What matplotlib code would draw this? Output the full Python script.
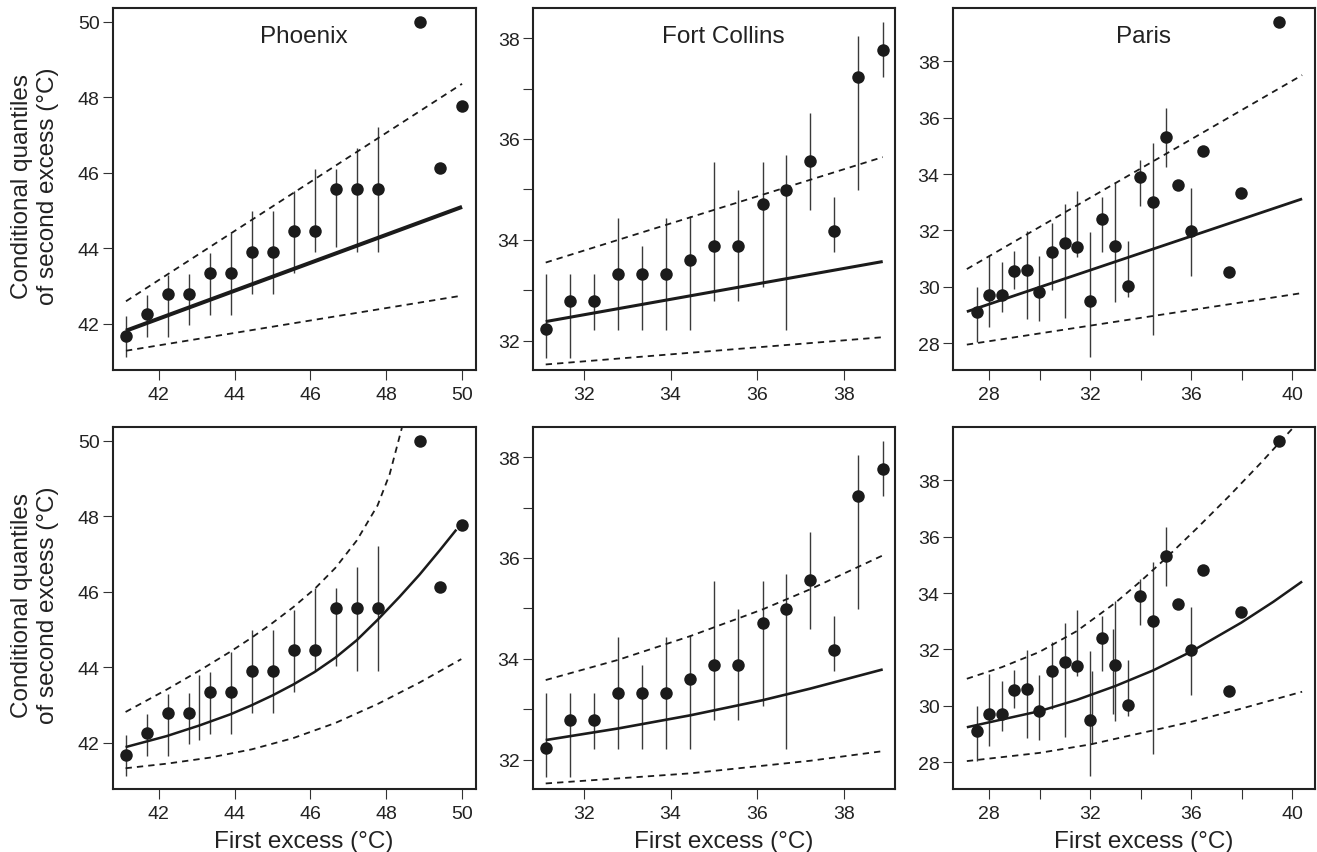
import numpy as np
import matplotlib
matplotlib.use("Agg")
import matplotlib.pyplot as plt

plt.rcParams['font.family'] = ['Liberation Sans', 'DejaVu Sans']

# ---------------- data: observed conditional quantiles ----------------
cities = ["Phoenix", "Fort Collins", "Paris"]

phx_x = [41.13, 41.68, 42.24, 42.79, 43.35, 43.90, 44.45, 45.01, 45.56, 46.12,
         46.67, 47.22, 47.78, 48.89, 49.43, 50.00]
phx_y = [41.69, 42.26, 42.80, 42.80, 43.36, 43.36, 43.90, 43.90, 44.47, 44.47,
         45.57, 45.57, 45.57, 50.00, 46.13, 47.78]
phx_lo = [41.12, 41.66, 41.66, 41.96, 42.24, 42.24, 42.78, 42.78, 43.34, 43.90,
          44.03, 43.90, 43.90, np.nan, np.nan, np.nan]
phx_hi = [42.22, 42.77, 43.30, 43.32, 43.88, 44.40, 44.99, 44.99, 45.53, 46.10,
          46.10, 46.66, 47.22, np.nan, np.nan, np.nan]

fc_x = [31.12, 31.68, 32.23, 32.79, 33.35, 33.90, 34.45, 35.00, 35.56, 36.12,
        36.66, 37.22, 37.77, 38.33, 38.89]
fc_y = [32.23, 32.78, 32.78, 33.33, 33.33, 33.33, 33.60, 33.88, 33.88, 34.72,
        34.99, 35.56, 34.17, 37.22, 37.77]
fc_lo = [31.66, 31.66, 32.22, 32.22, 32.22, 32.22, 32.22, 32.78, 32.78, 33.06,
         32.22, 34.59, 33.75, 34.99, 37.22]
fc_hi = [33.32, 33.32, 33.32, 34.44, 33.88, 34.44, 34.47, 35.55, 34.99, 35.55,
         35.69, 36.51, 34.85, 38.05, 38.32]

par_x = [27.51, 28.00, 28.50, 29.00, 29.49, 29.99, 30.49, 30.99, 31.49, 32.00,
         32.48, 32.99, 33.49, 33.97, 34.49, 34.99, 35.49, 35.99, 36.48, 37.49,
         37.98, 39.48]
par_y = [29.10, 29.71, 29.71, 30.55, 30.60, 29.81, 31.25, 31.56, 31.40, 29.49,
         32.41, 31.46, 30.02, 33.91, 33.00, 35.30, 33.61, 31.97, 34.81, 30.52,
         33.32, 39.40]
par_lo = [28.04, 28.59, 29.12, 29.93, 28.86, 28.80, 29.90, 28.89, 31.07, 27.50,
          31.25, 29.45, 29.65, 32.88, 28.29, 34.26, np.nan, 30.38, np.nan, np.nan,
          np.nan, np.nan]
par_hi = [30.00, 31.13, 30.87, 31.28, 31.99, 31.09, 32.27, 32.94, 33.39, 31.94,
          33.18, 33.71, 31.62, 34.50, 35.09, 36.34, np.nan, 33.51, np.nan, np.nan,
          np.nan, np.nan]

# extra interval segments visible only in the lower panels
phx_extra_x = [43.06]
phx_extra_lo = [42.08]
phx_extra_hi = [43.80]
fc_extra_x = []
fc_extra_lo = []
fc_extra_hi = []
par_extra_x = [32.06, 32.89]
par_extra_lo = [28.65, 29.71]
par_extra_hi = [31.23, 32.71]

# ---------------- fitted curves, top row (linear model) ----------------
phx_lin_x = [41.13, 50.00]
phx_lin_med = [41.82, 45.10]
phx_lin_up = [42.60, 48.36]
phx_lin_low = [41.29, 42.75]

fc_lin_x = [31.12, 38.89]
fc_lin_med = [32.38, 33.57]
fc_lin_up = [33.55, 35.64]
fc_lin_low = [31.53, 32.07]

par_lin_x = [27.12, 40.39]
par_lin_med = [29.12, 33.12]
par_lin_up = [30.63, 37.51]
par_lin_low = [27.95, 29.78]

# ---------------- fitted curves, bottom row (nonlinear model) ----------------
phx_nl_med_x = [41.12, 42.20, 43.06, 43.89, 44.45, 45.00, 45.55, 46.11, 46.66,
                47.22, 47.77, 48.35, 48.88, 49.41, 49.85]
phx_nl_med = [41.89, 42.18, 42.46, 42.76, 43.00, 43.26, 43.55, 43.88, 44.26,
              44.72, 45.26, 45.87, 46.46, 47.10, 47.65]
phx_nl_up_x = [41.12, 42.20, 43.06, 43.89, 44.45, 45.00, 45.55, 46.11, 46.66,
               47.22, 47.77, 48.09, 48.40, 48.50]
phx_nl_up = [42.82, 43.41, 43.91, 44.42, 44.79, 45.18, 45.60, 46.08, 46.64,
             47.36, 48.29, 49.12, 50.30, 50.75]
phx_nl_low_x = [41.12, 42.20, 43.34, 44.45, 45.55, 46.66, 47.77, 48.88, 49.98]
phx_nl_low = [41.33, 41.45, 41.61, 41.83, 42.13, 42.53, 43.03, 43.60, 44.22]

fc_nl_med_x = [31.12, 32.79, 34.45, 36.12, 37.22, 38.89]
fc_nl_med = [32.39, 32.62, 32.88, 33.18, 33.41, 33.79]
fc_nl_up_x = [31.12, 32.79, 34.45, 36.12, 37.22, 38.89]
fc_nl_up = [33.58, 33.98, 34.45, 34.98, 35.38, 36.05]
fc_nl_low_x = [31.12, 34.45, 37.22, 38.89]
fc_nl_low = [31.53, 31.73, 31.98, 32.17]

par_nl_med_x = [27.12, 29.99, 31.47, 32.99, 34.50, 35.99, 37.98, 39.25, 40.39]
par_nl_med = [29.24, 29.81, 30.21, 30.70, 31.26, 31.92, 32.95, 33.69, 34.41]
par_nl_up_x = [27.12, 28.50, 29.99, 31.47, 32.99, 34.00, 34.99, 36.24, 37.49,
               38.76, 40.04, 40.39]
par_nl_up = [30.96, 31.37, 31.91, 32.65, 33.65, 34.42, 35.23, 36.31, 37.43,
             38.62, 39.87, 40.22]
par_nl_low_x = [27.12, 29.99, 32.00, 35.99, 37.98, 40.39]
par_nl_low = [28.04, 28.33, 28.63, 29.43, 29.90, 30.50]

# ---------------- axis settings ----------------
xlims = [(40.78, 50.36), (30.82, 39.18), (26.56, 40.90)]
ylims = [(40.78, 50.36), (31.42, 38.59), (27.05, 39.88)]
xticks_major = [[42, 44, 46, 48, 50], [32, 34, 36, 38], [28, 32, 36, 40]]
xticks_minor = [[], [], [30, 34, 38]]
yticks_major = [[42, 44, 46, 48, 50], [32, 34, 36, 38], [28, 30, 32, 34, 36, 38]]
yticks_minor = [[], [33, 35, 37], []]

obs = [
    (phx_x, phx_y, phx_lo, phx_hi),
    (fc_x, fc_y, fc_lo, fc_hi),
    (par_x, par_y, par_lo, par_hi),
]
extras = [
    (phx_extra_x, phx_extra_lo, phx_extra_hi),
    (fc_extra_x, fc_extra_lo, fc_extra_hi),
    (par_extra_x, par_extra_lo, par_extra_hi),
]
lin = [
    (phx_lin_x, phx_lin_med, phx_lin_up, phx_lin_low),
    (fc_lin_x, fc_lin_med, fc_lin_up, fc_lin_low),
    (par_lin_x, par_lin_med, par_lin_up, par_lin_low),
]
nl = [
    ((phx_nl_med_x, phx_nl_med), (phx_nl_up_x, phx_nl_up), (phx_nl_low_x, phx_nl_low)),
    ((fc_nl_med_x, fc_nl_med), (fc_nl_up_x, fc_nl_up), (fc_nl_low_x, fc_nl_low)),
    ((par_nl_med_x, par_nl_med), (par_nl_up_x, par_nl_up), (par_nl_low_x, par_nl_low)),
]

W, H = 1317, 853
fig = plt.figure(figsize=(W / 100, H / 100), dpi=100)

lefts_px = [112.7, 532.7, 952.7]
rights_px = [475.7, 895.3, 1315.0]
rows_px = [(9.3, 371.0), (428.3, 790.0)]

ink = "#1b1b1b"
bar_col = "#3a3a3a"
dash = (0, (3.5, 2.8))
top_lw = [2.9, 2.2, 2.0]
bot_lw = [1.8, 1.9, 1.8]

for r, (top, bot) in enumerate(rows_px):
    for c in range(3):
        ax = fig.add_axes([lefts_px[c] / W, 1 - bot / H,
                           (rights_px[c] - lefts_px[c]) / W, (bot - top) / H])
        x, y, lo, hi = [np.asarray(v, dtype=float) for v in obs[c]]
        m = ~np.isnan(lo)
        ax.vlines(x[m], lo[m], hi[m], color=bar_col, lw=1.0, zorder=2)
        if r == 1:
            ex, elo, ehi = extras[c]
            if len(ex):
                ax.vlines(ex, elo, ehi, color=bar_col, lw=1.0, zorder=2)
        if r == 0:
            lx, lmed, lup, llow = lin[c]
            ax.plot(lx, lmed, color=ink, lw=top_lw[c], solid_capstyle='butt', zorder=2.5)
            ax.plot(lx, lup, color=ink, lw=1.3, linestyle=dash, zorder=2.5)
            ax.plot(lx, llow, color=ink, lw=1.3, linestyle=dash, zorder=2.5)
        else:
            (mx, my), (ux, uy), (wx, wy) = nl[c]
            ax.plot(mx, my, color=ink, lw=bot_lw[c], solid_capstyle='butt',
                    solid_joinstyle='round', zorder=2.5)
            ax.plot(ux, uy, color=ink, lw=1.3, linestyle=dash,
                    dash_joinstyle='round', zorder=2.5)
            ax.plot(wx, wy, color=ink, lw=1.3, linestyle=dash,
                    dash_joinstyle='round', zorder=2.5)
        ax.plot(x, y, 'o', ms=9, color=ink, markeredgewidth=0, zorder=3)

        ax.set_xlim(*xlims[c])
        ax.set_ylim(*ylims[c])
        ax.set_xticks(xticks_major[c])
        ax.set_xticks(xticks_minor[c], minor=True)
        ax.set_yticks(yticks_major[c])
        ax.set_yticks(yticks_minor[c], minor=True)
        ax.tick_params(which='both', direction='out', length=7, width=0.8,
                       color='#333333', labelsize=14, labelcolor='#222222')
        ax.tick_params(axis='x', which='both', pad=4.5)
        ax.tick_params(axis='y', which='both', pad=2.5)
        for s in ax.spines.values():
            s.set_linewidth(1.5)
            s.set_color('#222222')

        if r == 0:
            ax.text(0.526, 0.908, cities[c], transform=ax.transAxes,
                    ha='center', va='baseline', fontsize=17.5, color='#222222')
        if r == 1:
            ax.text(0.5275, (bot - 847.7) / (bot - top), "First excess (\u00b0C)",
                    transform=ax.transAxes, ha='center', va='baseline',
                    fontsize=17.5, color='#222222', clip_on=False)

    fig.text(35 / W, 1 - ((top + bot) / 2 - 4) / H,
             "Conditional quantiles\nof second excess (\u00b0C)",
             rotation=90, ha='center', va='center', fontsize=17.5,
             linespacing=1.25, color='#222222')

fig.savefig("out.png", dpi=100)
